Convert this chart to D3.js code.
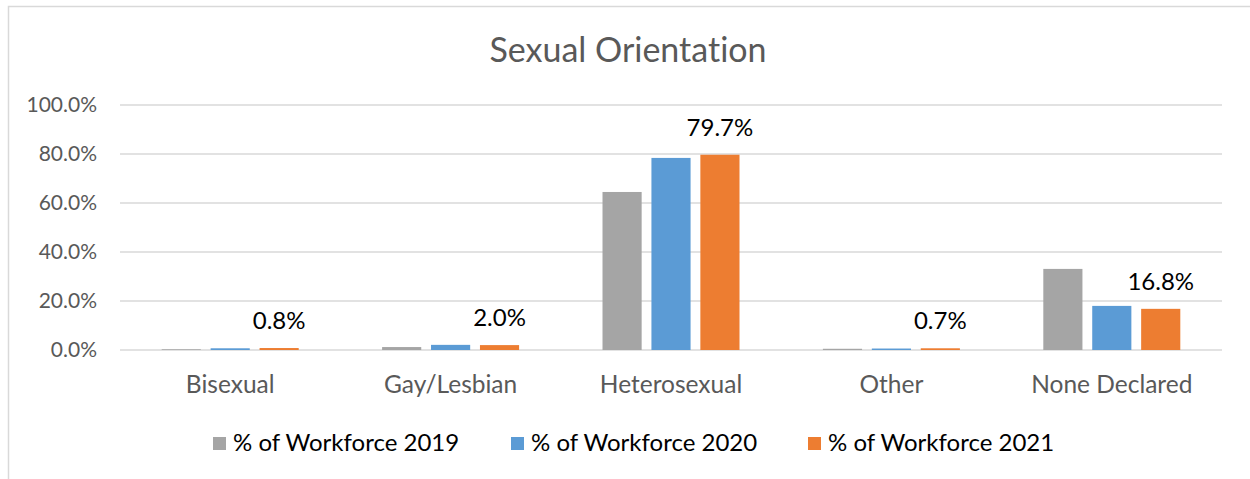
<!DOCTYPE html>
<html lang="en">
<head>
<meta charset="UTF-8">
<title>Sexual Orientation</title>
<script src="https://d3js.org/d3.v7.min.js"></script>
<style>
    body { margin: 0; background: #fff; }
    svg text { font-family: Lato, "Open Sans", sans-serif; font-variant-ligatures: none; }
</style>
</head>
<body>
<svg id="chart" width="1250" height="479"></svg>
<script>
    // data
    const categories = ["Bisexual", "Gay/Lesbian", "Heterosexual", "Other", "None Declared"];
    const seriesNames = ["% of Workforce 2019", "% of Workforce 2020", "% of Workforce 2021"];
    const values2019 = [0.3, 1.2, 64.5, 0.5, 33.1];
    const values2020 = [0.7, 2.1, 78.4, 0.6, 18.0];
    const values2021 = [0.8, 2.0, 79.7, 0.7, 16.8];
    const yTicks = [0, 20, 40, 60, 80, 100];
    const colors = ["#A5A5A5", "#5B9BD5", "#ED7D31"];
    const labelledSeries = 2; // only the 2021 bars carry labels

    const allSeries = [values2019, values2020, values2021];
    const svg = d3.select("#chart");

    // chart frame
    svg.append("rect")
        .attr("x", 8.5).attr("y", 6.5)
        .attr("width", 1260).attr("height", 500)
        .attr("fill", "none")
        .attr("stroke", "#D9D9D9")
        .attr("stroke-width", 1.5);

    // title
    svg.append("text")
        .attr("x", 628).attr("y", 62)
        .attr("text-anchor", "middle")
        .attr("fill", "#595959")
        .attr("font-size", 34)
        .text("Sexual Orientation");

    // scales
    const y = d3.scaleLinear().domain([0, 100]).range([350, 105]);
    const x0 = d3.scaleBand().domain(categories).range([120, 1222]);
    const x1 = d3.scaleBand().domain(d3.range(3)).range([-68.5, 68.5]).paddingInner(0.2);

    // gridlines
    svg.append("g").selectAll("line").data(yTicks).join("line")
        .attr("x1", 120).attr("x2", 1222)
        .attr("y1", d => y(d)).attr("y2", d => y(d))
        .attr("stroke", "#D9D9D9")
        .attr("stroke-width", 1.5);

    // y axis labels
    const yAxis = svg.append("g")
        .attr("transform", "translate(103,0)")
        .call(d3.axisLeft(y).tickValues(yTicks).tickFormat(d => d.toFixed(1) + "%").tickSize(0).tickPadding(6));
    yAxis.select(".domain").remove();
    yAxis.selectAll("text")
        .attr("fill", "#595959")
        .attr("font-size", 21)
        .attr("font-family", "Lato, sans-serif");

    // bars
    const groups = svg.append("g").selectAll("g").data(categories).join("g")
        .attr("transform", d => "translate(" + (x0(d) + x0.bandwidth() / 2) + ",0)");

    groups.selectAll("rect")
        .data((d, i) => allSeries.map((s, k) => ({ k: k, v: s[i] })))
        .join("rect")
        .attr("x", d => x1(d.k))
        .attr("width", x1.bandwidth())
        .attr("y", d => y(d.v))
        .attr("height", d => y(0) - y(d.v))
        .attr("fill", d => colors[d.k]);

    // data labels for 2021
    groups.append("text")
        .attr("x", x1(labelledSeries) + x1.bandwidth() / 2)
        .attr("y", (d, i) => y(allSeries[labelledSeries][i]) - 19)
        .attr("text-anchor", "middle")
        .attr("fill", "#000")
        .attr("font-size", 24)
        .text((d, i) => allSeries[labelledSeries][i].toFixed(1) + "%");

    // category labels
    const xAxis = svg.append("g")
        .attr("transform", "translate(0,350)")
        .call(d3.axisBottom(x0).tickSize(0).tickPadding(0));
    xAxis.select(".domain").remove();
    xAxis.selectAll("text")
        .attr("y", 43)
        .attr("dy", null)
        .attr("fill", "#595959")
        .attr("font-size", 24.5)
        .attr("font-family", "Lato, sans-serif");

    // legend
    const legendX = [213, 511, 808];
    const legend = svg.append("g").selectAll("g").data(seriesNames).join("g")
        .attr("transform", (d, i) => "translate(" + legendX[i] + ",437)");
    legend.append("rect")
        .attr("width", 13).attr("height", 13)
        .attr("fill", (d, i) => colors[i]);
    legend.append("text")
        .attr("x", 20).attr("y", 14)
        .attr("fill", "#000")
        .attr("font-size", 24)
        .text(d => d);
</script>
</body>
</html>
